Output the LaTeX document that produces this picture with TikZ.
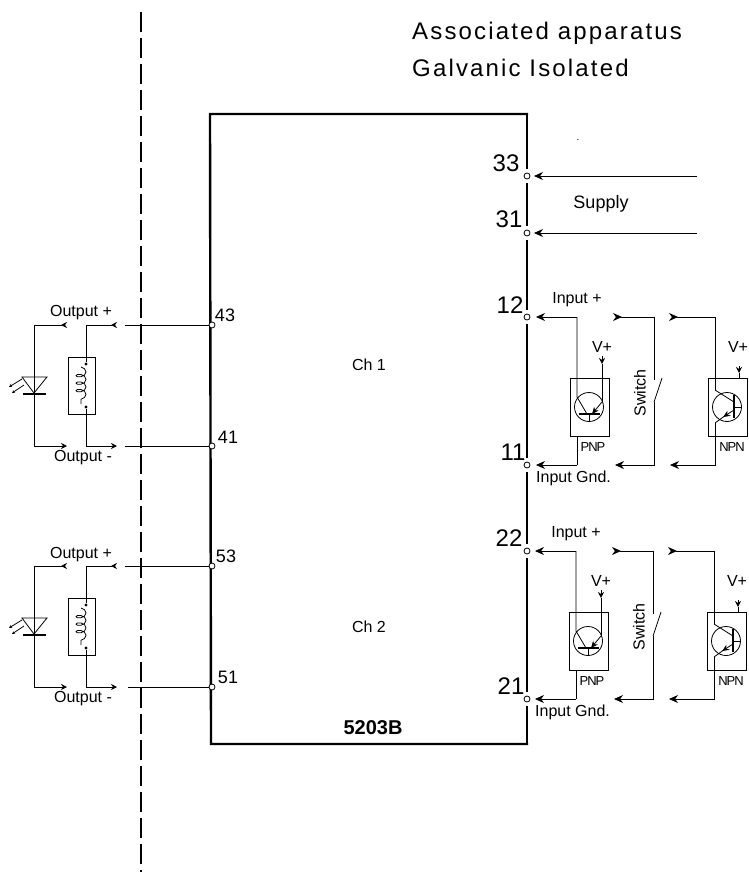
\documentclass[tikz,border=0pt]{standalone}
\usepackage{fontspec}
\setmainfont{Liberation Sans}
\newfontfamily\headfont[LetterSpace=9]{Liberation Sans}
\usetikzlibrary{arrows.meta,decorations.pathmorphing}
\tikzset{
	wire/.style={line width=.8pt},
	frameline/.style={line width=2.4pt},
	term/.style={circle,draw,fill=white,line width=.8pt,inner sep=0pt,minimum size=6pt},
	termr/.style={term,outer sep=4pt},
	smallin/.style={wire,-{Stealth[length=6pt,width=6pt]}},
	smallback/.style={wire,-{Stealth[reversed,length=6pt,width=6pt]}},
	bigin/.style={wire,-{Stealth[length=9pt,width=8pt]}},
	bigback/.style={wire,-{Stealth[reversed,length=9pt,width=8pt]}},
	vhead/.style={wire,-{Stealth[length=6pt,width=6pt]}},
	symbox/.style={draw,wire,inner sep=0pt},
	dotjoin/.style={circle,fill=black,inner sep=0pt,minimum size=3.4pt},
	headtxt/.style={inner sep=0pt,anchor=west,font=\headfont\fontsize{24}{26}\selectfont},
	txt/.style={inner sep=0pt,font=\fontsize{16}{18}\selectfont},
	numbig/.style={inner sep=0pt,font=\fontsize{24}{26}\selectfont},
	numsmall/.style={inner sep=0pt,font=\fontsize{18}{20}\selectfont},
	tinytxt/.style={inner sep=0pt,font=\fontsize{13}{15}\selectfont\addfontfeature{LetterSpace=-8}}
}
\begin{document}
\begin{tikzpicture}
		[x=1pt,y=-1pt]
		\useasboundingbox (0,0) rectangle (748,872);

		\coordinate (d1) at (141,12);
		\coordinate (d2) at (141,872);
		\draw[line width=2pt,dash pattern=on 20pt off 6pt] (d1) -- (d2);

		\node[headtxt] (head1) at (412,33) {Associated apparatus};
		\node[headtxt] (head2) at (412,68) {Galvanic Isolated};
		\node[inner sep=0pt,font=\fontsize{10}{12}\selectfont] (dot) at (578,140) {.};

		\node[termr] (t33) at (527,176) {};
		\node[termr] (t31) at (527,233) {};
		\node[termr] (t12) at (527,317) {};
		\node[termr] (t11) at (527,465) {};
		\node[termr] (t22) at (527,551) {};
		\node[termr] (t21) at (527,699) {};
		\coordinate (ctl) at (210,114);
		\coordinate (ctr) at (527,114);
		\coordinate (cbr) at (527,744);
		\coordinate (cbl) at (211,744);
		\draw[frameline,line cap=rect] (ctr) -- (ctl) -- (cbl) -- (cbr);
		\draw[frameline] (ctr) -- (t33);
		\draw[frameline] (t33) -- (t31);
		\draw[frameline] (t31) -- (t12);
		\draw[frameline] (t12) -- (t11);
		\draw[frameline] (t11) -- (t22);
		\draw[frameline] (t22) -- (t21);
		\draw[frameline] (t21) -- (cbr);

		\node[txt] (ch1) at (369,365) {Ch 1};
		\node[txt] (ch2) at (369,627) {Ch 2};
		\node[inner sep=0pt,font=\fontsize{20}{22}\selectfont\bfseries] (model) at (373,728) {5203B};

		\node[numbig] (n33) at (506,163) {33};
		\node[numbig] (n31) at (509,219) {31};
		\node[numbig] (n12) at (510,305) {12};
		\node[numbig] (n11) at (513,452) {11};
		\node[numbig] (n22) at (509,538) {22};
		\node[numbig] (n21) at (511,686) {21};
		\node[numsmall] (n43) at (225,315) {43};
		\node[numsmall] (n41) at (228,437) {41};
		\node[numsmall] (n53) at (226,556) {53};
		\node[numsmall] (n51) at (228,677) {51};

		\coordinate (s1) at (697,176);
		\coordinate (s2) at (697,233);
		\draw[bigin] (s1) -- (t33);
		\draw[bigin] (s2) -- (t31);
		\node[font=\fontsize{18}{20}\selectfont,inner sep=0pt] (supply) at (601,204) {Supply};

		\node[term] (t43) at (212,325) {};
		\node[term] (t41) at (212,446) {};
		\node[term] (t53) at (212,566) {};
		\node[term] (t51) at (212,687) {};
		\coordinate (e43) at (125,325);
		\coordinate (e41) at (125,446);
		\coordinate (e53) at (125,566);
		\coordinate (e51) at (128,687);
		\draw[wire] (t43) -- (e43);
		\draw[wire] (t41) -- (e41);
		\draw[wire] (t53) -- (e53);
		\draw[wire] (t51) -- (e51);

		\begin{scope}
			\node[txt] (outp1) at (81,313) {Output +};
			\node[txt] (outm1) at (83,458) {Output -};
			\node[symbox,minimum width=27pt,minimum height=57pt] (coil1) at (81.5,385.5) {};
			\node[dotjoin] (ca1) at (86,364) {};
			\node[dotjoin] (cb1) at (86,407) {};
			\coordinate (w1) at (86,325);
			\coordinate (w2) at (117,325);
			\coordinate (w3) at (86,446);
			\coordinate (w4) at (117,446);
			\coordinate (l1) at (34,325);
			\coordinate (l2) at (67,325);
			\coordinate (l3) at (34,446);
			\coordinate (l4) at (67,446);
			\draw[smallback] (ca1) -- (w1) -- (w2);
			\draw[smallin] (cb1) -- (w3) -- (w4);
			\draw[smallback] (l3) -- (l1) -- (l2);
			\draw[smallin] (l1) -- (l3) -- (l4);
			\draw[wire,decorate,decoration={coil,amplitude=5pt,segment length=7.5pt,aspect=.6}] (81,367) -- (81,404);
			\draw[wire] (22,377) -- (47,377) -- (34,393) -- cycle;
			\draw[line width=1.4pt] (23,394) -- (46,394);
			\draw[wire,-{Stealth[length=3pt,width=3pt]}] (22,379) -- (9,387);
			\draw[wire,-{Stealth[length=3pt,width=3pt]}] (24,385) -- (12,393);
		\end{scope}

		\begin{scope}[shift={(0,241)}]
			\node[txt] (outp2) at (81,314) {Output +};
			\node[txt] (outm2) at (83,458) {Output -};
			\node[symbox,minimum width=27pt,minimum height=57pt] (coil2) at (81.5,385.5) {};
			\node[dotjoin] (ca2) at (86,364) {};
			\node[dotjoin] (cb2) at (86,407) {};
			\coordinate (x1) at (86,325);
			\coordinate (x2) at (117,325);
			\coordinate (x3) at (86,446);
			\coordinate (x4) at (117,446);
			\coordinate (m1) at (34,325);
			\coordinate (m2) at (67,325);
			\coordinate (m3) at (34,446);
			\coordinate (m4) at (67,446);
			\draw[smallback] (ca2) -- (x1) -- (x2);
			\draw[smallin] (cb2) -- (x3) -- (x4);
			\draw[smallback] (m3) -- (m1) -- (m2);
			\draw[smallin] (m1) -- (m3) -- (m4);
			\draw[wire,decorate,decoration={coil,amplitude=5pt,segment length=7.5pt,aspect=.6}] (81,367) -- (81,404);
			\draw[wire] (22,377) -- (47,377) -- (34,393) -- cycle;
			\draw[line width=1.4pt] (23,394) -- (46,394);
			\draw[wire,-{Stealth[length=3pt,width=3pt]}] (22,379) -- (9,387);
			\draw[wire,-{Stealth[length=3pt,width=3pt]}] (24,385) -- (12,393);
		\end{scope}

		\begin{scope}
			\node[txt] (inp1) at (577,300) {Input +};
			\node[txt,anchor=west] (gnd1) at (536,478) {Input Gnd.};
			\node[txt] (vp1) at (602,347) {V+};
			\node[txt] (vn1) at (738,347) {V+};
			\node[tinytxt] (pnp1) at (593,447) {PNP};
			\node[tinytxt] (npn1) at (732,447) {NPN};
			\node[txt,rotate=90] (sw1) at (640,393) {Switch};
			\node[symbox,minimum width=39pt,minimum height=58pt] (pb1) at (589.5,407) {};
			\node[symbox,minimum width=39pt,minimum height=58pt] (nb1) at (727.5,407) {};
			\node[symbox,circle,minimum size=29pt] (pq1) at (589,407) {};
			\node[symbox,circle,minimum size=29pt] (nq1) at (727,407) {};
			\coordinate (a1) at (536,317);
			\coordinate (a2) at (577,317);
			\coordinate (a3) at (577,465);
			\coordinate (a4) at (536,465);
			\draw[bigin] (a2) -- (a1);
			\draw[wire] (a2) -- (577,397) -- (587,414);
			\draw[bigin] (a3) -- (a4);
			\draw[wire] (pb1.south -| a3) -- (a3);
			\draw[line width=1.2pt] (579,414) -- (600,414);
			\draw[wire] (589,414) -- (pq1.south);
			\draw[vhead] (602,356) -- (602,364);
			\draw[wire] (602,364) -- (602,402);
			\draw[wire,-{Stealth[length=7pt,width=6pt]}] (602,402) -- (592,414);
			\coordinate (b1) at (654,317);
			\coordinate (b2) at (613,317);
			\coordinate (b3) at (654,465);
			\coordinate (b4) at (615,465);
			\coordinate (b5) at (654,380);
			\coordinate (b6) at (654,402);
			\coordinate (b7) at (662,378);
			\draw[bigback] (b5) -- (b1) -- (b2);
			\draw[bigin] (b6) -- (b3) -- (b4);
			\draw[wire] (b6) -- (b7);
			\coordinate (c1) at (715,317);
			\coordinate (c2) at (669,317);
			\coordinate (c3) at (715,465);
			\coordinate (c4) at (670,465);
			\draw[bigback] (715,390) -- (c1) -- (c2);
			\draw[wire] (715,390) -- (734,402);
			\draw[line width=1.2pt] (734,395) -- (734,418);
			\draw[wire] (734,407) -- (nq1.east);
			\draw[wire,-{Stealth[length=7pt,width=6pt]},shorten >=-1pt] (734,410) -- (724,416.5);
			\draw[wire] (724,416.5) -- (715,423);
			\draw[bigin] (715,423) -- (c3) -- (c4);
			\draw[vhead] (739,366) -- (739,373);
			\draw[wire] (739,373) -- (739,378);
		\end{scope}

		\begin{scope}[shift={(-1,234)}]
			\node[txt] (inp2) at (577,300) {Input +};
			\node[txt,anchor=west] (gnd2) at (536,478) {Input Gnd.};
			\node[txt] (vp2) at (602,347) {V+};
			\node[txt] (vn2) at (738,347) {V+};
			\node[tinytxt] (pnp2) at (593,447) {PNP};
			\node[tinytxt] (npn2) at (732,447) {NPN};
			\node[txt,rotate=90] (sw2) at (640,393) {Switch};
			\node[symbox,minimum width=39pt,minimum height=58pt] (pb2) at (589.5,407) {};
			\node[symbox,minimum width=39pt,minimum height=58pt] (nb2) at (727.5,407) {};
			\node[symbox,circle,minimum size=29pt] (pq2) at (589,407) {};
			\node[symbox,circle,minimum size=29pt] (nq2) at (727,407) {};
			\coordinate (f1) at (536,317);
			\coordinate (f2) at (577,317);
			\coordinate (f3) at (577,465);
			\coordinate (f4) at (536,465);
			\draw[bigin] (f2) -- (f1);
			\draw[wire] (f2) -- (577,397) -- (587,414);
			\draw[bigin] (f3) -- (f4);
			\draw[wire] (pb2.south -| f3) -- (f3);
			\draw[line width=1.2pt] (579,414) -- (600,414);
			\draw[wire] (589,414) -- (pq2.south);
			\draw[vhead] (602,356) -- (602,364);
			\draw[wire] (602,364) -- (602,402);
			\draw[wire,-{Stealth[length=7pt,width=6pt]}] (602,402) -- (592,414);
			\coordinate (g1) at (654,317);
			\coordinate (g2) at (613,317);
			\coordinate (g3) at (654,465);
			\coordinate (g4) at (615,465);
			\coordinate (g5) at (654,380);
			\coordinate (g6) at (654,402);
			\coordinate (g7) at (662,378);
			\draw[bigback] (g5) -- (g1) -- (g2);
			\draw[bigin] (g6) -- (g3) -- (g4);
			\draw[wire] (g6) -- (g7);
			\coordinate (h1) at (715,317);
			\coordinate (h2) at (669,317);
			\coordinate (h3) at (715,465);
			\coordinate (h4) at (670,465);
			\draw[bigback] (715,390) -- (h1) -- (h2);
			\draw[wire] (715,390) -- (734,402);
			\draw[line width=1.2pt] (734,395) -- (734,418);
			\draw[wire] (734,407) -- (nq2.east);
			\draw[wire,-{Stealth[length=7pt,width=6pt]},shorten >=-1pt] (734,410) -- (724,416.5);
			\draw[wire] (724,416.5) -- (715,423);
			\draw[bigin] (715,423) -- (h3) -- (h4);
			\draw[vhead] (739,366) -- (739,373);
			\draw[wire] (739,373) -- (739,378);
		\end{scope}

	\end{tikzpicture}
\end{document}
